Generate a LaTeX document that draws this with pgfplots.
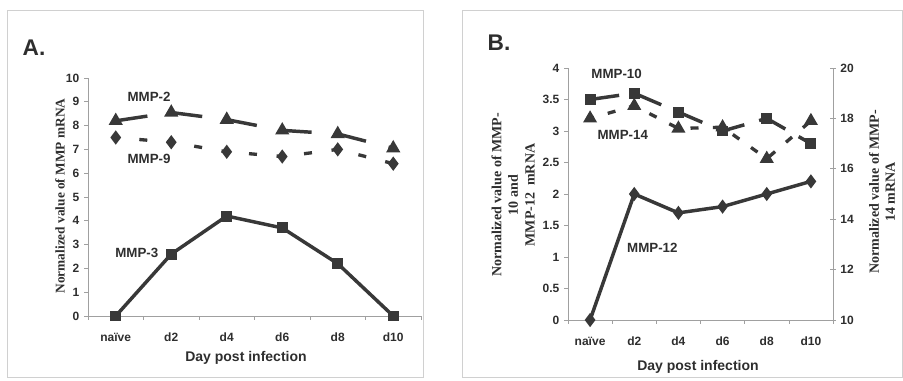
\documentclass[border=0pt]{standalone}
\usepackage{fontspec}
\setmainfont{Liberation Sans}
\newfontfamily\timesfont{Liberation Serif}
\usepackage{pgfplots}
\pgfplotsset{compat=1.18}

\definecolor{ink}{HTML}{383838}
\definecolor{txt}{HTML}{2E2E2E}
\definecolor{axisgray}{HTML}{A0A0A0}
\definecolor{framegray}{HTML}{D0D0D0}

\pgfplotsset{excel/.style={
  scale only axis, clip=false,
  axis x line*=bottom, axis y line*=left,
  axis line style={axisgray, line width=0.6pt},
  xmin=-0.5, xmax=5.5, xtick={0,...,5},
  xticklabels={naïve,d2,d4,d6,d8,d10},
  major x tick style={draw=none},
  minor xtick={-0.5,0.5,...,5.5},
  minor x tick style={axisgray, line width=0.5pt},
  y tick style={axisgray, line width=0.5pt},
  tick align=outside, major tick length=3pt, minor tick length=3pt,
  ticklabel style={font=\fontsize{9}{10}\selectfont\bfseries, text=txt},
  xticklabel style={anchor=base, yshift=-16pt},
  /pgf/number format/assume math mode=true,
}}
\tikzset{
  lab/.style={font=\fontsize{10}{11}\selectfont\bfseries, text=txt},
}

\begin{document}
\begin{tikzpicture}
\useasboundingbox (0,0) rectangle (677.25pt,285.75pt);

% ---------------- Panel A ----------------
\begin{axis}[excel, at={(66pt,48.75pt)}, anchor=south west,
  width=249.75pt, height=178.5pt,
  ymin=0, ymax=10, ytick={0,...,10}]
\addplot[ink, line width=2.6pt, dash pattern=on 24pt off 17.5pt,
  mark=triangle*, mark size=3.6pt, mark options={solid, fill=ink}]
  coordinates {(0,8.2) (1,8.55) (2,8.25) (3,7.8) (4,7.65) (5,7.05)};
\addplot[ink, line width=2.5pt, dash pattern=on 6pt off 14.75pt, dash phase=3pt,
  mark=diamond*, mark size=3.3pt, mark options={solid, fill=ink}]
  coordinates {(0,7.5) (1,7.3) (2,6.9) (3,6.7) (4,7.0) (5,6.4)};
\addplot[ink, line width=2.6pt,
  mark=square*, mark size=2.8pt, mark options={solid, fill=ink}]
  coordinates {(0,0) (1,2.6) (2,4.2) (3,3.7) (4,2.2) (5,0)};
\node[lab] at (axis cs:0.6,9.2) {MMP-2};
\node[lab] at (axis cs:0.6,6.6) {MMP-9};
\node[lab] at (axis cs:0.38,2.65) {MMP-3};
\end{axis}

% ---------------- Panel B ----------------
\begin{axis}[excel, at={(426pt,45.75pt)}, anchor=south west,
  width=198.75pt, height=189pt,
  ymin=0, ymax=4, ytick={0,0.5,...,4}]
\addplot[ink, line width=2.6pt, dash pattern=on 22pt off 11.5pt,
  mark=square*, mark size=2.8pt, mark options={solid, fill=ink}]
  coordinates {(0,3.5) (1,3.6) (2,3.3) (3,3.0) (4,3.2) (5,2.8)};
\addplot[ink, line width=2.6pt,
  mark=diamond*, mark size=3.2pt, mark options={solid, fill=ink}]
  coordinates {(0,0) (1,2.0) (2,1.7) (3,1.8) (4,2.0) (5,2.2)};
\node[lab] at (axis cs:0.6,3.9) {MMP-10};
\node[lab] at (axis cs:0.74,2.94) {MMP-14};
\node[lab] at (axis cs:1.41,1.14) {MMP-12};
\end{axis}
\begin{axis}[scale only axis, clip=false, at={(426pt,45.75pt)}, anchor=south west,
  width=198.75pt, height=189pt,
  axis x line=none, axis y line*=right,
  axis line style={axisgray, line width=0.6pt},
  xmin=-0.5, xmax=5.5,
  ymin=10, ymax=20, ytick={10,12,...,20},
  y tick style={axisgray, line width=0.5pt},
  tick align=center, major tick length=4pt,
  ticklabel style={font=\fontsize{9}{10}\selectfont\bfseries, text=txt},
  /pgf/number format/assume math mode=true]
\addplot[ink, line width=2.5pt, dash pattern=on 6pt off 10.75pt, dash phase=3pt,
  mark=triangle*, mark size=3.6pt, mark options={solid, fill=ink}]
  coordinates {(0,18.0) (1,18.5) (2,17.6) (3,17.65) (4,16.4) (5,17.9)};
\end{axis}

% ---------------- annotations in pixel coordinates ----------------
\begin{scope}[x=0.75pt, y=-0.75pt, shift={(0,285.75pt)}]
  \draw[framegray, line width=0.6pt] (7,10) rectangle (423,377);
  \draw[framegray, line width=0.6pt] (462,10) rectangle (902.5,377);
  \node[font=\fontsize{17}{18}\selectfont\bfseries, text=txt] at (34,48) {A.};
  \node[font=\fontsize{17}{18}\selectfont\bfseries, text=txt] at (499,43) {B.};
  \node[font=\fontsize{10.5}{12}\selectfont\bfseries, text=txt] at (246,358) {Day post infection};
  \node[font=\fontsize{10.5}{12}\selectfont\bfseries, text=txt] at (698,367) {Day post infection};
  \node[rotate=90, font=\timesfont\fontsize{10}{10}\selectfont\bfseries, text=txt] at (60,196) {Normalized value of MMP mRNA};
  \node[rotate=90, align=center, font=\timesfont\fontsize{10.5}{12.5}\selectfont\bfseries, text=txt] at (513,195)
    {Normalized value of MMP-\\10 and\\MMP-12\ \ mRNA};
  \node[rotate=90, align=center, font=\timesfont\fontsize{10.5}{12}\selectfont\bfseries, text=txt] at (882,192)
    {Normalized value of MMP-\\14 mRNA};
\end{scope}
\end{tikzpicture}
\end{document}
